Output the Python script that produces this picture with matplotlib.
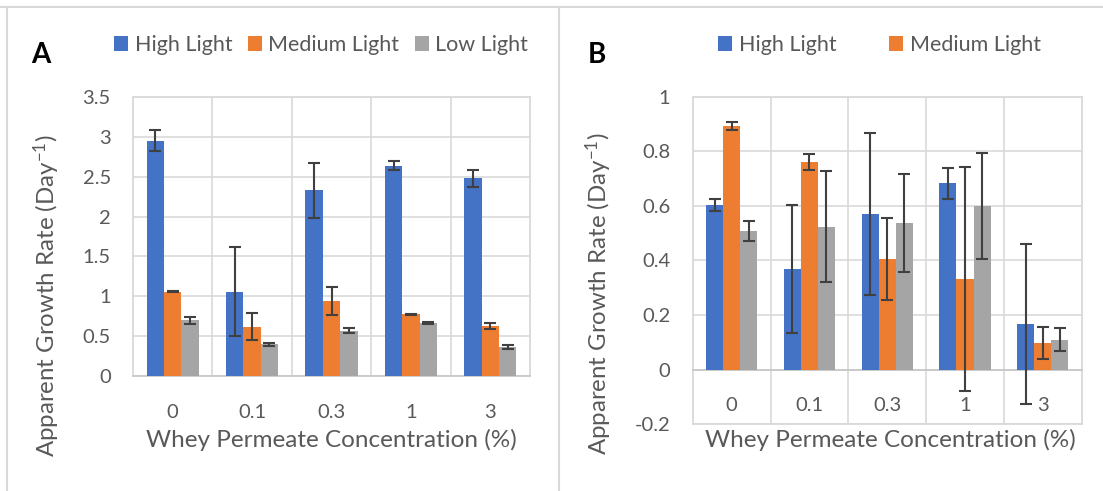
import matplotlib
matplotlib.use("Agg")
import matplotlib.pyplot as plt
import numpy as np
from matplotlib.lines import Line2D

# ---------------- data ----------------
categories = ["0", "0.1", "0.3", "1", "3"]
series_names = ["High Light", "Medium Light", "Low Light"]

a_high = [2.95, 1.06, 2.33, 2.64, 2.48]
a_high_err = [0.13, 0.56, 0.345, 0.055, 0.11]
a_med = [1.06, 0.62, 0.94, 0.777, 0.622]
a_med_err = [0.006, 0.17, 0.18, 0.006, 0.037]
a_low = [0.70, 0.40, 0.57, 0.664, 0.363]
a_low_err = [0.045, 0.02, 0.03, 0.008, 0.02]

b_high = [0.604, 0.368, 0.570, 0.683, 0.168]
b_high_err = [0.022, 0.235, 0.296, 0.057, 0.293]
b_med = [0.893, 0.762, 0.406, 0.332, 0.098]
b_med_err = [0.015, 0.029, 0.151, 0.41, 0.057]
b_low = [0.509, 0.524, 0.538, 0.598, 0.109]
b_low_err = [0.037, 0.204, 0.179, 0.194, 0.042]

a_yticks = [0, 0.5, 1, 1.5, 2, 2.5, 3, 3.5]
b_yticks = [-0.2, 0, 0.2, 0.4, 0.6, 0.8, 1]

colors = ["#4472C4", "#ED7D31", "#A5A5A5"]
txt = "#595959"
gridc = "#D9D9D9"
FONT = "Lato"

plt.rcParams["font.family"] = [FONT, "DejaVu Sans"]
plt.rcParams["mathtext.fontset"] = "custom"
plt.rcParams["mathtext.rm"] = FONT
plt.rcParams["mathtext.it"] = FONT

W, H = 1103, 491
fig = plt.figure(figsize=(W / 100, H / 100), dpi=100)

def ax_px(l, r, t, b):
    return fig.add_axes([l / W, 1 - b / H, (r - l) / W, (b - t) / H])

def draw(ax, data, errs, yticks, ylim, zero_axis):
    x = np.arange(len(categories))
    bw = 0.219
    handles = []
    for i, (vals, e) in enumerate(zip(data, errs)):
        h = ax.bar(x + (i - 1) * bw, vals, bw, color=colors[i], zorder=3,
                   yerr=e, error_kw=dict(ecolor="#404040", elinewidth=1.5,
                                         capsize=4.4, capthick=1.5, zorder=4))
        handles.append(h)
    ax.set_xlim(-0.5, len(categories) - 0.5)
    ax.set_ylim(*ylim)
    ax.set_yticks(yticks)
    ax.set_yticklabels([f"{t:g}" for t in yticks])
    ax.set_xticks(x)
    ax.set_xticklabels(categories)
    ax.set_xticks(np.arange(len(categories) - 1) + 0.5, minor=True)
    ax.tick_params(axis="both", which="both", length=0, colors=txt,
                   labelsize=14.5)
    ax.tick_params(axis="y", pad=16)
    ax.tick_params(axis="x", pad=20)
    ax.grid(axis="y", which="major", color=gridc, lw=1.2, zorder=0)
    ax.grid(axis="x", which="minor", color=gridc, lw=1.2, zorder=0)
    ax.grid(axis="x", which="major", visible=False)
    for s in ax.spines.values():
        s.set_color(gridc)
        s.set_linewidth(1.3)
    if zero_axis:
        ax.spines["bottom"].set_position(("data", 0))
        ax.spines["bottom"].set_color("#C8C8C8")
        ax.axhline(ylim[0], color=gridc, lw=1.3, zorder=1, clip_on=False)
    else:
        ax.spines["bottom"].set_color("#C8C8C8")
    return handles

axA = ax_px(133, 530, 97, 376)
hA = draw(axA, [a_high, a_med, a_low], [a_high_err, a_med_err, a_low_err],
          a_yticks, (0, 3.5), False)
axB = ax_px(692.7, 1081.7, 96.7, 424.3)
hB = draw(axB, [b_high, b_med, b_low], [b_high_err, b_med_err, b_low_err],
          b_yticks, (-0.2, 1.0), True)

ylab = "Apparent Growth Rate (Day$^{-1}$)"
xlab = "Whey Permeate Concentration (%)"
for cx, cy in [(47, 296), (599, 294)]:
    fig.text(cx / W, 1 - cy / H, ylab, rotation=90, ha="center", va="center",
             color=txt, fontsize=17.3)
for cx in [331.5, 890]:
    fig.text(cx / W, 1 - 447 / H, xlab, ha="center", va="baseline",
             color=txt, fontsize=17.5)

fig.text(31.6 / W, 1 - 55 / H, "A", fontsize=20, fontweight="bold",
         ha="left", va="center", color="black")
fig.text(588 / W, 1 - 55 / H, "B", fontsize=20, fontweight="bold",
         ha="left", va="center", color="black")

legkw = dict(loc="center", ncol=3, frameon=False, fontsize=15.5,
             handlelength=0.65, handleheight=0.65, handletextpad=0.3,
             labelcolor=txt, borderaxespad=0, borderpad=0)
fig.legend(hA, series_names, bbox_to_anchor=(321 / W, 1 - 45 / H),
           columnspacing=0.72, **legkw)
fig.legend(hB[:2], series_names[:2], bbox_to_anchor=(879.5 / W, 1 - 45 / H),
           columnspacing=2.46, **legkw)

# chart frames
for xs, ys in [([0, W], [7, 7]), ([7.4, 7.4], [7, H]), ([558.8, 558.8], [7, H])]:
    fig.add_artist(Line2D([v / W for v in xs], [1 - v / H for v in ys],
                          color=gridc, lw=1.5))

fig.savefig("out.png", dpi=100)
